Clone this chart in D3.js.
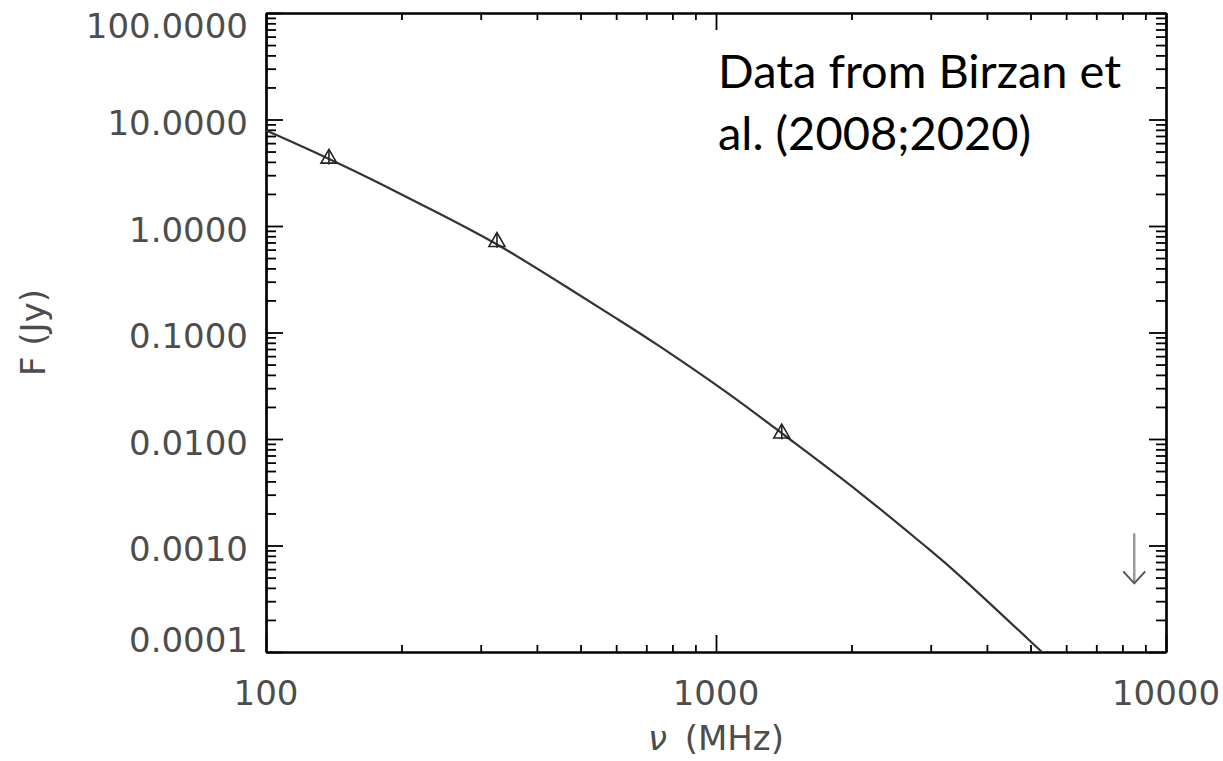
<!DOCTYPE html>
<html>
<head>
<meta charset="utf-8">
<script src="https://cdn.jsdelivr.net/npm/d3@7"></script>
<style>
  body { margin: 0; background: #fff; }
  .tick-label { font-family: "DejaVu Sans", sans-serif; font-size: 34px; fill: #4d4d4d; }
  .axis-title { font-family: "DejaVu Sans", sans-serif; font-size: 34px; fill: #4d4d4d; }
  .note { font-family: Lato, "Open Sans", sans-serif; font-size: 47px; fill: #000; }
</style>
</head>
<body>
<div id="chart"></div>
<script>
// ticks
var freqTicks = [100, 1000, 10000];
var freqLabels = ["100", "1000", "10000"];
var fluxTicks = [100, 10, 1, 0.1, 0.01, 0.001, 0.0001];
var fluxLabels = ["100.0000", "10.0000", "1.0000", "0.1000", "0.0100", "0.0010", "0.0001"];

// measured points (MHz, Jy)
var obsFreq = [138, 326, 1400];
var obsFlux = [4.3, 0.71, 0.0113];

// upper limit
var limFreq = [8500];
var limFlux = [0.0013];

// fitted curve
var fitFreq = [100, 138, 179, 244, 326, 474, 612, 713, 1074, 1400, 2089, 3020, 3311, 5300];
var fitFlux = [7.9, 4.3, 2.53, 1.29, 0.69, 0.255, 0.129, 0.086, 0.0265, 0.0113, 0.0032, 0.00087, 0.00064, 0.0001];

var W = 1223, H = 761;
var margin = {left: 266, top: 13, right: 57, bottom: 109};
var width = W - margin.left - margin.right,
    height = H - margin.top - margin.bottom;

var svg = d3.select("#chart").append("svg")
    .attr("width", W)
    .attr("height", H);

var chart = svg.append("g")
    .attr("transform", "translate(" + margin.left + "," + margin.top + ")");

var x = d3.scaleLog().domain([100, 10000]).range([0, width]);
var y = d3.scaleLog().domain([0.0001, 100]).range([height, 0]);

var xMinor = x.ticks().filter(function (d) { return freqTicks.indexOf(d) < 0; });
var yMinor = y.ticks().filter(function (d) { return fluxTicks.indexOf(d) < 0; });

function styleAxis(g) {
    g.select(".domain").attr("stroke", "#000").attr("stroke-width", 2.2);
    g.selectAll(".tick line").attr("stroke", "#000").attr("stroke-width", 1.8);
    g.selectAll(".tick text").remove();
}

// axes: major and minor ticks pointing inward on all four sides
[[d3.axisBottom, x, "translate(0," + height + ")", freqTicks, xMinor, 7],
 [d3.axisTop, x, "translate(0,0)", freqTicks, xMinor, 7],
 [d3.axisLeft, y, "translate(0,0)", fluxTicks, yMinor, 10],
 [d3.axisRight, y, "translate(" + width + ",0)", fluxTicks, yMinor, 10]
].forEach(function (a) {
    chart.append("g")
        .attr("transform", a[2])
        .call(a[0](a[1]).tickValues(a[4]).tickSizeInner(-a[5]).tickSizeOuter(0).tickFormat(""))
        .call(styleAxis);
    chart.append("g")
        .attr("transform", a[2])
        .call(a[0](a[1]).tickValues(a[3]).tickSizeInner(-17).tickSizeOuter(0).tickFormat(""))
        .call(styleAxis);
});

// y tick labels (kept inside the frame at the ends)
chart.selectAll(".ylab")
    .data(fluxTicks)
    .enter().append("text")
    .attr("class", "tick-label")
    .attr("text-anchor", "end")
    .attr("x", -18)
    .attr("y", function (d) {
        return Math.max(12.5, Math.min(height - 13, y(d) + 3)) + 12.5;
    })
    .text(function (d, i) { return fluxLabels[i]; });

// x tick labels
chart.selectAll(".xlab")
    .data(freqTicks)
    .enter().append("text")
    .attr("class", "tick-label")
    .attr("text-anchor", "middle")
    .attr("x", function (d) { return x(d); })
    .attr("y", height + 53)
    .text(function (d, i) { return freqLabels[i]; });

// axis titles
var xt = chart.append("text")
    .attr("class", "axis-title")
    .attr("text-anchor", "middle")
    .attr("x", width / 2)
    .attr("y", height + 98);
xt.append("tspan").style("font-style", "italic").text("\u03BD");
xt.append("tspan").text("\u2009 (MHz)");

svg.append("text")
    .attr("class", "axis-title")
    .attr("text-anchor", "middle")
    .attr("transform", "translate(45," + (margin.top + height / 2) + ") rotate(-90)")
    .text("F  (Jy)");

// fitted curve
var fit = fitFreq.map(function (d, i) { return {x: d, y: fitFlux[i]}; });
var line = d3.line()
    .curve(d3.curveBasis)
    .x(function (d) { return x(d.x); })
    .y(function (d) { return y(d.y); });

chart.append("path")
    .datum(fit)
    .attr("d", line)
    .attr("fill", "none")
    .attr("stroke", "#333")
    .attr("stroke-width", 2.2);

// data points: open triangles with a small bar
var pts = obsFreq.map(function (d, i) { return {x: d, y: obsFlux[i]}; });
var sym = d3.symbol().type(d3.symbolTriangle).size(110);
var pg = chart.selectAll(".pt")
    .data(pts)
    .enter().append("g")
    .attr("transform", function (d) { return "translate(" + x(d.x) + "," + y(d.y) + ")"; });
pg.append("path")
    .attr("d", sym)
    .attr("fill", "none")
    .attr("stroke", "#222")
    .attr("stroke-width", 1.6);
pg.append("line")
    .attr("y1", -8).attr("y2", 6)
    .attr("stroke", "#222")
    .attr("stroke-width", 1.6);

// upper limit arrow
var lims = limFreq.map(function (d, i) { return {x: d, y: limFlux[i]}; });
var ag = chart.selectAll(".lim")
    .data(lims)
    .enter().append("g")
    .attr("transform", function (d) { return "translate(" + x(d.x) + "," + y(d.y) + ")"; });
ag.append("line")
    .attr("y1", 0).attr("y2", 50)
    .attr("stroke", "#999")
    .attr("stroke-width", 2.5);
ag.append("path")
    .attr("d", "M-11,38L0,50L11,38")
    .attr("fill", "none")
    .attr("stroke", "#555")
    .attr("stroke-width", 2);

// annotation
svg.append("text").attr("class", "note").attr("x", 718).attr("y", 88).text("Data from Birzan et");
svg.append("text").attr("class", "note").attr("x", 718).attr("y", 150).text("al. (2008;2020)");
</script>
</body>
</html>
